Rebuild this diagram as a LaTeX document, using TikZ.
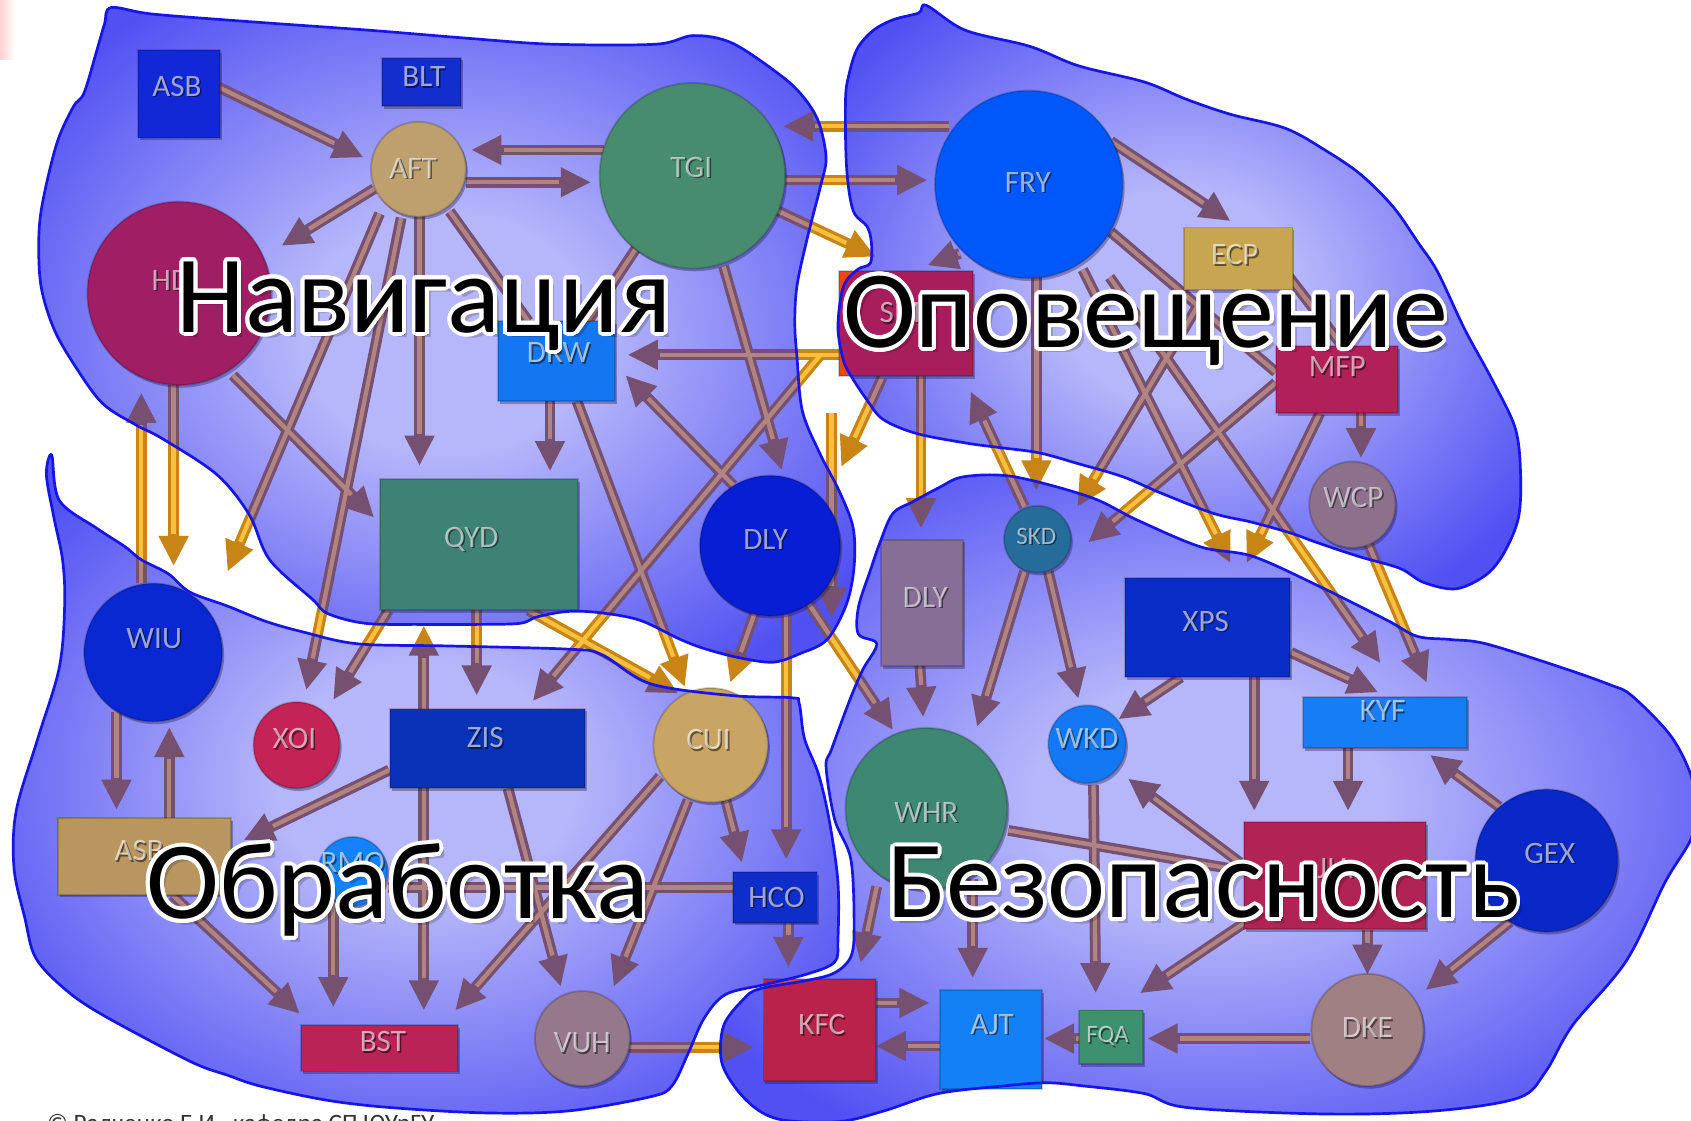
\documentclass[tikz,border=0pt]{standalone}
\usepackage{fontspec}
\newfontfamily\lblfont{Carlito}
\usetikzlibrary{arrows.meta,calc,shadows}

\definecolor{blobin}{RGB}{182,182,250}
\definecolor{blobout}{RGB}{80,80,243}
\definecolor{arrin}{RGB}{118,80,112}
\definecolor{arrinhl}{RGB}{178,132,128}
\definecolor{arrout}{RGB}{200,132,20}
\definecolor{arrouthl}{RGB}{248,192,62}
\definecolor{edgeblue}{RGB}{20,20,235}
\definecolor{redorange}{RGB}{240,70,20}
\definecolor{cASBa}{RGB}{18,40,215}
\definecolor{cBLT}{RGB}{20,45,205}
\definecolor{cAFT}{RGB}{190,160,110}
\definecolor{cTGI}{RGB}{72,140,112}
\definecolor{cHD}{RGB}{160,30,100}
\definecolor{cDRW}{RGB}{20,118,240}
\definecolor{cQYD}{RGB}{62,130,118}
\definecolor{cDLYc}{RGB}{8,30,212}
\definecolor{cFRY}{RGB}{0,88,250}
\definecolor{cECP}{RGB}{200,165,80}
\definecolor{cSMP}{RGB}{168,30,92}
\definecolor{cMFP}{RGB}{178,32,90}
\definecolor{cWCP}{RGB}{140,112,140}
\definecolor{cSKD}{RGB}{38,108,155}
\definecolor{cDLYr}{RGB}{135,110,150}
\definecolor{cXPS}{RGB}{10,45,200}
\definecolor{cKYF}{RGB}{22,125,245}
\definecolor{cWKD}{RGB}{20,120,245}
\definecolor{cWHR}{RGB}{62,135,115}
\definecolor{cJJA}{RGB}{178,35,85}
\definecolor{cGEX}{RGB}{10,40,200}
\definecolor{cDKE}{RGB}{160,128,130}
\definecolor{cFQA}{RGB}{62,145,110}
\definecolor{cAJT}{RGB}{20,128,245}
\definecolor{cKFC}{RGB}{185,35,75}
\definecolor{cWIU}{RGB}{10,40,210}
\definecolor{cXOI}{RGB}{195,35,85}
\definecolor{cZIS}{RGB}{10,50,185}
\definecolor{cCUI}{RGB}{200,165,100}
\definecolor{cASBb}{RGB}{185,150,95}
\definecolor{cRMO}{RGB}{20,130,250}
\definecolor{cHCO}{RGB}{15,45,200}
\definecolor{cBST}{RGB}{185,35,85}
\definecolor{cVUH}{RGB}{150,120,140}
\definecolor{nshadow}{RGB}{30,20,80}

\pgfdeclareradialshading{blobshade}{\pgfpoint{0bp}{0bp}}{color(0bp)=(blobin); color(9bp)=(blobin); color(31bp)=(blobout); color(50bp)=(blobout)}

\tikzset{
 cn/.style={rectangle,inner sep=0pt,outer sep=0pt,draw=black,draw opacity=.18,line width=.5pt},
 ci/.style={circle,inner sep=0pt,outer sep=0pt,draw=black,draw opacity=.18,line width=.5pt},
 ghost/.style={fill=none,draw=none},
 shad/.style={drop shadow={shadow xshift=.018cm,shadow yshift=-.025cm,opacity=.35,fill=nshadow}},
 arrIn/.style={draw=arrin,fill=arrin,line width=.10cm,-{Triangle[width=.26cm,length=.28cm]}},
 arrInHL/.style={draw=arrinhl,line width=.04cm,shorten >=.30cm},
 lnIn/.style={draw=arrin,line width=.10cm},
 lnInHL/.style={draw=arrinhl,line width=.04cm},
 arrOut/.style={draw=arrout,fill=arrout,line width=.10cm,-{Triangle[width=.26cm,length=.28cm]}},
 arrOutHL/.style={draw=arrouthl,line width=.04cm,shorten >=.30cm},
 lnOut/.style={draw=arrout,line width=.10cm},
 lnOutHL/.style={draw=arrouthl,line width=.04cm},
 nlab/.style={font=\lblfont\fontsize{8.2}{9}\selectfont,text=white,text opacity=.6,inner sep=0pt},
 nlabs/.style={nlab,font=\lblfont\fontsize{6.6}{7}\selectfont},
 big/.style={font=\lblfont\fontsize{29}{33}\selectfont,anchor=base west,inner sep=0pt},
 blobline/.style={draw=edgeblue,line width=.025cm},
}

\newcommand\PathNav{plot[smooth cycle,tension=.55] coordinates {(103,7) (141,13) (230,20) (342,28) (440,36) (513,41) (608,41) (643,33) (679,40) (724,70) (745,90) (759,113) (766,146) (761,172) (749,219) (739,265) (737,300) (739,331) (744,381) (760,420) (778,455) (791,489) (792,525) (785,560) (767,593) (742,606) (717,614) (686,610) (655,602) (631,593) (593,575) (555,568) (526,567) (498,572) (482,578) (440,579) (390,579) (339,578) (304,569) (290,556) (250,519) (231,477) (201,440) (151,407) (126,394) (95,374) (70,340) (50,305) (38,265) (36,220) (40,185) (53,132) (68,99) (78,86) (90,46) (97,22)}}
\newcommand\PathOpo{plot[smooth cycle,tension=.55] coordinates {(859,5) (895,28) (955,43) (1000,61) (1061,76) (1100,92) (1141,106) (1192,119) (1230,140) (1262,162) (1292,192) (1315,225) (1333,252) (1358,305) (1383,351) (1405,397) (1410,440) (1408,480) (1395,512) (1378,533) (1350,546) (1320,540) (1298,527) (1260,516) (1221,503) (1196,494) (1160,484) (1125,476) (1076,457) (1041,442) (1000,430) (964,420) (927,415) (897,411) (850,402) (819,389) (804,371) (790,350) (782,334) (777,303) (782,266) (795,250) (807,244) (808,225) (804,210) (791,195) (785,155) (784,93) (787,70) (795,45) (810,28) (829,18) (852,12)}}
\newcommand\PathBez{plot[smooth cycle,tension=.55] coordinates {(871,452) (894,442) (940,442) (1011,461) (1054,482) (1113,507) (1162,516) (1224,544) (1286,575) (1314,590) (1345,593) (1378,597) (1448,619) (1493,635) (1513,645) (1549,682) (1568,719) (1572,750) (1568,778) (1544,818) (1508,891) (1458,951) (1433,994) (1408,1018) (1332,1030) (1231,1033) (1101,1027) (1061,1014) (1005,1007) (970,1004) (930,1007) (870,1014) (820,1030) (779,1040) (729,1039) (704,1030) (683,1010) (669,984) (671,951) (689,927) (704,917) (749,909) (774,902) (789,887) (792,859) (789,797) (774,760) (766,711) (771,695) (788,649) (800,621) (813,597) (796,588) (796,563) (807,529) (816,503) (828,476) (847,465)}}
\newcommand\PathObr{plot[smooth cycle,tension=.55] coordinates {(48,422) (55,464) (90,490) (116,507) (131,519) (156,532) (176,549) (211,562) (246,576) (281,586) (332,597) (417,599) (528,602) (558,607) (603,634) (679,645) (734,647) (741,652) (746,685) (759,718) (769,761) (777,818) (777,871) (774,892) (749,903) (709,913) (673,922) (653,944) (638,977) (623,1007) (603,1017) (528,1030) (452,1032) (362,1027) (302,1020) (241,1007) (211,997) (176,984) (95,941) (60,917) (33,888) (23,851) (13,805) (15,752) (35,685) (55,619) (60,560) (58,519) (50,480) (43,440)}}

\newcommand\GraphNodes[1]{%
\node[cn,fill=cASBa,minimum width=.76cm,minimum height=.81cm,#1] (ASBa) at (166,87) {};
\node[cn,fill=cBLT,minimum width=.73cm,minimum height=.45cm,#1] (BLT) at (391,76) {};
\node[ci,fill=cAFT,minimum size=.88cm,#1] (AFT) at (388,157) {};
\node[ci,fill=cTGI,minimum size=1.72cm,#1] (TGI) at (642,163) {};
\node[ci,fill=cHD,minimum size=1.70cm,#1] (HD) at (166,272) {};
\node[cn,fill=cDRW,minimum width=1.08cm,minimum height=.74cm,#1] (DRW) at (516,335) {};
\node[cn,fill=cQYD,minimum width=1.84cm,minimum height=1.21cm,#1] (QYD) at (444,505) {};
\node[ci,fill=cDLYc,minimum size=1.30cm,#1] (DLYc) at (714,506) {};
\node[ci,fill=cFRY,minimum size=1.74cm,#1] (FRY) at (954,171) {};
\node[cn,fill=cECP,minimum width=1.01cm,minimum height=.58cm,#1] (ECP) at (1148,240) {};
\node[cn,fill=cSMP,minimum width=1.24cm,minimum height=.97cm,#1] (SMP) at (840,300) {};
\node[cn,fill=cMFP,minimum width=1.13cm,minimum height=.62cm,#1] (MFP) at (1240,352) {};
\node[ci,fill=cWCP,minimum size=.80cm,#1] (WCP) at (1254,468) {};
\node[ci,fill=cSKD,minimum size=.62cm,#1] (SKD) at (962,500) {};
\node[cn,fill=cDLYr,minimum width=.76cm,minimum height=1.17cm,#1] (DLYr) at (855,559) {};
\node[cn,fill=cXPS,minimum width=1.53cm,minimum height=.92cm,#1] (XPS) at (1120,582) {};
\node[cn,fill=cKYF,minimum width=1.52cm,minimum height=.47cm,#1] (KYF) at (1284,670) {};
\node[ci,fill=cWKD,minimum size=.72cm,#1] (WKD) at (1008,690) {};
\node[ci,fill=cWHR,minimum size=1.50cm,#1] (WHR) at (859,750) {};
\node[cn,fill=cJJA,minimum width=1.69cm,minimum height=.99cm,#1] (JJA) at (1238,812) {};
\node[ci,fill=cGEX,minimum size=1.32cm,#1] (GEX) at (1434,798) {};
\node[ci,fill=cDKE,minimum size=1.04cm,#1] (DKE) at (1268,955) {};
\node[cn,fill=cFQA,minimum width=.59cm,minimum height=.50cm,#1] (FQA) at (1030,962) {};
\node[cn,fill=cAJT,minimum width=.94cm,minimum height=.92cm,#1] (AJT) at (919,964) {};
\node[cn,fill=cKFC,minimum width=1.04cm,minimum height=.95cm,#1] (KFC) at (760,955) {};
\node[ci,fill=cWIU,minimum size=1.28cm,#1] (WIU) at (142,605) {};
\node[ci,fill=cXOI,minimum size=.80cm,#1] (XOI) at (275,691) {};
\node[cn,fill=cZIS,minimum width=1.81cm,minimum height=.74cm,#1] (ZIS) at (452,694) {};
\node[ci,fill=cCUI,minimum size=1.06cm,#1] (CUI) at (659,691) {};
\node[cn,fill=cASBb,minimum width=1.60cm,minimum height=.71cm,#1] (ASBb) at (134,794) {};
\node[ci,fill=cRMO,minimum size=.64cm,#1] (RMO) at (327,808) {};
\node[cn,fill=cHCO,minimum width=.78cm,minimum height=.47cm,#1] (HCO) at (719,832) {};
\node[cn,fill=cBST,minimum width=1.45cm,minimum height=.43cm,#1] (BST) at (352,972) {};
\node[ci,fill=cVUH,minimum size=.88cm,#1] (VUH) at (540,963) {};
}

\newcommand\Arrows[2]{%
\draw[#1] ($(ASBa)+(35,-7)$) -- ($(AFT)+(-51,-11)$);
\draw[#1] ($(TGI)+(-82,-24)$) -- ($(AFT)+(49,-18)$);
\draw[#1] ($(AFT)+(44,12)$) -- ($(TGI)+(-94,6)$);
\draw[#1] ($(AFT)+(-41,18)$) -- ($(HD)+(95,-44)$);
\draw[#1] ($(AFT)+(1,43)$) -- ($(QYD)+(-55,-73)$);
\draw[#1] ($(AFT)+(-16,45)$) -- ($(XOI)+(9,-51)$);
\draw[#1] ($(AFT)+(-36,41)$) -- ($(WIU)+(69,-75)$);
\draw[#2] ($(AFT)+(29,39)$) -- ($(DRW)+(-26,-37)$);
\draw[#1] ($(HD)+(50,76)$) -- ($(QYD)+(-97,-25)$);
\draw[#1] ($(HD)+(-5,85)$) -- ($(WIU)+(19,-80)$);
\draw[#1] ($(WIU)+(-11,-64)$) -- ($(HD)+(-35,92)$);
\draw[#2] ($(TGI)+(-52,67)$) -- ($(DRW)+(29,-37)$);
\draw[#1] ($(TGI)+(29,84)$) -- ($(DLYc)+(11,-70)$);
\draw[#1] ($(SMP)+(-50,29)$) -- ($(DRW)+(66,-6)$);
\draw[#1] ($(DLYc)+(-34,-56)$) -- ($(DRW)+(64,13)$);
\draw[#1] ($(DRW)+(-6,37)$) -- ($(QYD)+(66,-68)$);
\draw[#1] ($(DRW)+(19,37)$) -- ($(CUI)+(-24,-54)$);
\draw[#1] ($(FRY)+(-74,-54)$) -- ($(TGI)+(84,-46)$);
\draw[#1] ($(TGI)+(83,4)$) -- ($(FRY)+(-94,-4)$);
\draw[#1] ($(TGI)+(78,32)$) -- ($(SMP)+(-28,-62)$);
\draw[#1] ($(SMP)+(-22,50)$) -- ($(DLYc)+(66,-73)$);
\draw[#1] (fA) -- (fB);
\draw[#1] ($(SMP)+(-80,30)$) -- ($(ZIS)+(42,-44)$);
\draw[#1] ($(DLYc)+(-14,62)$) -- ($(CUI)+(18,-58)$);
\draw[#1] ($(DLYc)+(15,64)$) -- ($(HCO)+(10,-35)$);
\draw[#1] ($(DLYc)+(36,54)$) -- ($(WHR)+(-31,-73)$);
\draw[#1] ($(FRY)+(-64,64)$) -- ($(SMP)+(20,-54)$);
\draw[#1] ($(FRY)+(76,-40)$) -- ($(ECP)+(-7,-35)$);
\draw[#2] ($(ECP)+(42,10)$) -- ($(MFP)+(5,-31)$);
\draw[#1] ($(MFP)+(22,31)$) -- ($(WCP)+(8,-43)$);
\draw[#1] ($(FRY)+(7,84)$) -- ($(SKD)+(-1,-45)$);
\draw[#1] ($(SMP)+(14,48)$) -- ($(DLYr)+(-1,-69)$);
\draw[#1] ($(SKD)+(-12,-30)$) -- ($(SMP)+(60,63)$);
\draw[#1] ($(MFP)+(-57,3)$) -- ($(SKD)+(47,3)$);
\draw[#1] ($(ECP)+(-28,28)$) -- ($(SKD)+(37,-30)$);
\draw[#1] ($(FRY)+(50,79)$) -- ($(XPS)+(21,-60)$);
\draw[#1] ($(MFP)+(-16,31)$) -- ($(XPS)+(36,-60)$);
\draw[#1] ($(FRY)+(75,86)$) -- ($(KYF)+(-4,-55)$);
\draw[#1] ($(WCP)+(13,32)$) -- ($(KYF)+(39,-37)$);
\draw[#2] ($(FRY)+(76,44)$) -- ($(MFP)+(-57,-7)$);
\draw[#1] ($(SKD)+(-12,30)$) -- ($(WHR)+(47,-76)$);
\draw[#1] ($(SKD)+(10,30)$) -- ($(WKD)+(-8,-42)$);
\draw[#1] ($(DLYr)+(-2,58)$) -- ($(WHR)+(-3,-85)$);
\draw[#1] ($(XPS)+(-25,46)$) -- ($(WKD)+(29,-23)$);
\draw[#1] ($(XPS)+(43,46)$) -- ($(JJA)+(-75,-60)$);
\draw[#1] ($(XPS)+(77,23)$) -- ($(KYF)+(-6,-28)$);
\draw[#1] ($(KYF)+(-34,24)$) -- ($(JJA)+(12,-60)$);
\draw[#1] ($(GEX)+(-44,-50)$) -- ($(KYF)+(42,30)$);
\draw[#1] ($(JJA)+(-88,-12)$) -- ($(WKD)+(38,32)$);
\draw[#2] ($(WHR)+(76,20)$) -- ($(JJA)+(-88,-5)$);
\draw[#1] ($(WKD)+(6,38)$) -- ($(FQA)+(-14,-41)$);
\draw[#1] ($(JJA)+(-83,43)$) -- ($(FQA)+(27,-41)$);
\draw[#1] ($(JJA)+(30,50)$) -- ($(DKE)+(0,-51)$);
\draw[#1] ($(GEX)+(-34,57)$) -- ($(DKE)+(54,-37)$);
\draw[#1] ($(DKE)+(-53,8)$) -- ($(FQA)+(34,1)$);
\draw[#1] ($(FQA)+(-29,1)$) -- ($(AJT)+(49,-1)$);
\draw[#1] ($(AJT)+(-47,6)$) -- ($(KFC)+(52,15)$);
\draw[#1] ($(KFC)+(52,-25)$) -- ($(AJT)+(-57,-34)$);
\draw[#1] ($(WHR)+(43,65)$) -- ($(AJT)+(-17,-57)$);
\draw[#1] ($(WHR)+(-46,72)$) -- ($(KFC)+(38,-62)$);
\draw[#1] ($(HCO)+(12,23)$) -- ($(KFC)+(-29,-58)$);
\draw[#1] ($(VUH)+(43,8)$) -- ($(KFC)+(-61,16)$);
\draw[#1] ($(WIU)+(-34,55)$) -- ($(ASBb)+(-26,-43)$);
\draw[#1] ($(ASBb)+(23,-35)$) -- ($(WIU)+(15,69)$);
\draw[#1] ($(ZIS)+(-91,20)$) -- ($(ASBb)+(92,-15)$);
\draw[#1] ($(ASBb)+(26,36)$) -- ($(BST)+(-74,-32)$);
\draw[#1] ($(ZIS)+(-59,37)$) -- ($(BST)+(41,-35)$);
\draw[#1] ($(RMO)+(-18,27)$) -- ($(BST)+(-43,-38)$);
\draw[#1] ($(CUI)+(-47,29)$) -- ($(BST)+(70,-35)$);
\draw[#1] ($(ZIS)+(19,37)$) -- ($(VUH)+(-20,-48)$);
\draw[#1] ($(CUI)+(-21,51)$) -- ($(VUH)+(29,-48)$);
\draw[#1] ($(CUI)+(14,51)$) -- ($(HCO)+(-31,-32)$);
\draw[#2] ($(HCO)+(-39,-9)$) -- ($(RMO)+(33,15)$);
\draw[#1] ($(ZIS)+(-59,-37)$) -- ($(QYD)+(-51,75)$);
\draw[#1] ($(QYD)+(-2,61)$) -- ($(ZIS)+(-10,-49)$);
\draw[#1] ($(QYD)+(-84,61)$) -- ($(XOI)+(34,-42)$);
\draw[#1] ($(QYD)+(46,61)$) -- ($(CUI)+(-30,-48)$);
}

\newcommand\NLab[5]{%
\node[#5,text=black,text opacity=.5] (#1s) at ($(#2,#3)+(1.4,1.4)$) {#4};
\node[#5] (#1) at (#2,#3) {#4};}

\newcommand\BigLab[4]{%
\node[big,text=black,text opacity=.18] (#1sa) at ($(#2,#3)+(5,5)$) {#4};
\node[big,text=black,text opacity=.22] (#1sb) at ($(#2,#3)+(3,3)$) {#4};
\foreach \a in {0,15,...,345}{\node[big,text=white] (#1o\a) at ($(#2,#3)+(\a:3.6)$) {#4};}
\node[big,text=black] (#1) at (#2,#3) {#4};}

\begin{document}
\begin{tikzpicture}[x=.01cm,y=-.01cm]
\useasboundingbox (0,0) rectangle (1568,1039);
\fill[white] (0,0) rectangle (1568,1039);
\shade[left color=red!18!white,right color=white] (0,0) rectangle (14,55);
% node geometry
\GraphNodes{ghost}
\coordinate (fA) at (771,383);
\coordinate (fB) at (771,573);
% connectors as seen outside the regions
\Arrows{arrOut}{lnOut}
\Arrows{arrOutHL}{lnOutHL}
\begin{scope}
\colorlet{cSMP}{redorange}\colorlet{cKFC}{redorange}
\GraphNodes{}
\end{scope}
% tinted regions
\shade[shading=blobshade] \PathNav;
\shade[shading=blobshade] \PathOpo;
\shade[shading=blobshade] \PathBez;
\shade[shading=blobshade] \PathObr;
\begin{scope}
\clip \PathNav \PathOpo \PathBez \PathObr;
\Arrows{arrIn}{lnIn}
\Arrows{arrInHL}{lnInHL}
\GraphNodes{shad}
\NLab{tASBa}{164}{80}{ASB}{nlab}
\NLab{tBLT}{393}{71}{BLT}{nlab}
\NLab{tAFT}{383}{156}{AFT}{nlab}
\NLab{tTGI}{641}{155}{TGI}{nlab}
\NLab{tHD}{140}{260}{HD}{nlab,anchor=west}
\NLab{tDRW}{518}{327}{DRW}{nlab}
\NLab{tQYD}{437}{500}{QYD}{nlab}
\NLab{tDLYc}{710}{500}{DLY}{nlab}
\NLab{tFRY}{953}{169}{FRY}{nlab}
\NLab{tECP}{1145}{236}{ECP}{nlab}
\NLab{tSMP}{842}{290}{SMP}{nlab}
\NLab{tMFP}{1240}{340}{MFP}{nlab}
\NLab{tWCP}{1255}{461}{WCP}{nlab}
\NLab{tSKD}{961}{497}{SKD}{nlabs}
\NLab{tDLYr}{858}{554}{DLY}{nlab}
\NLab{tXPS}{1118}{576}{XPS}{nlab}
\NLab{tKYF}{1282}{659}{KYF}{nlab}
\NLab{tWKD}{1008}{685}{WKD}{nlab}
\NLab{tWHR}{859}{753}{WHR}{nlab}
\NLab{tJIA}{1238}{805}{JIA}{nlab}
\NLab{tGEX}{1437}{791}{GEX}{nlab}
\NLab{tDKE}{1268}{953}{DKE}{nlab}
\NLab{tFQA}{1027}{961}{FQA}{nlabs}
\NLab{tAJT}{920}{950}{AJT}{nlab}
\NLab{tKFC}{762}{950}{KFC}{nlab}
\NLab{tWIU}{143}{592}{WIU}{nlab}
\NLab{tXOI}{273}{685}{XOI}{nlab}
\NLab{tZIS}{450}{684}{ZIS}{nlab}
\NLab{tCUI}{657}{686}{CUI}{nlab}
\NLab{tASBb}{129}{789}{ASB}{nlab}
\NLab{tRMO}{327}{800}{RMO}{nlab}
\NLab{tHCO}{720}{832}{HCO}{nlab}
\NLab{tBST}{355}{966}{BST}{nlab}
\NLab{tVUH}{540}{967}{VUH}{nlab}
\end{scope}
% region outlines
\draw[blobline] \PathNav;
\draw[blobline] \PathOpo;
\draw[blobline] \PathBez;
\draw[blobline] \PathObr;
% region titles
\BigLab{nav}{163}{308}{Навигация}
\BigLab{opo}{781}{322}{Оповещение}
\BigLab{obr}{135}{852}{Обработка}
\BigLab{bez}{822}{851}{Безопасность}
\node[font=\lblfont\fontsize{6.6}{8}\selectfont,text=black!80,anchor=base west,inner sep=0pt] (copyr) at (43,1049) {© Радченко Е.И., кафедра СП ЮУрГУ};
\end{tikzpicture}
\end{document}
